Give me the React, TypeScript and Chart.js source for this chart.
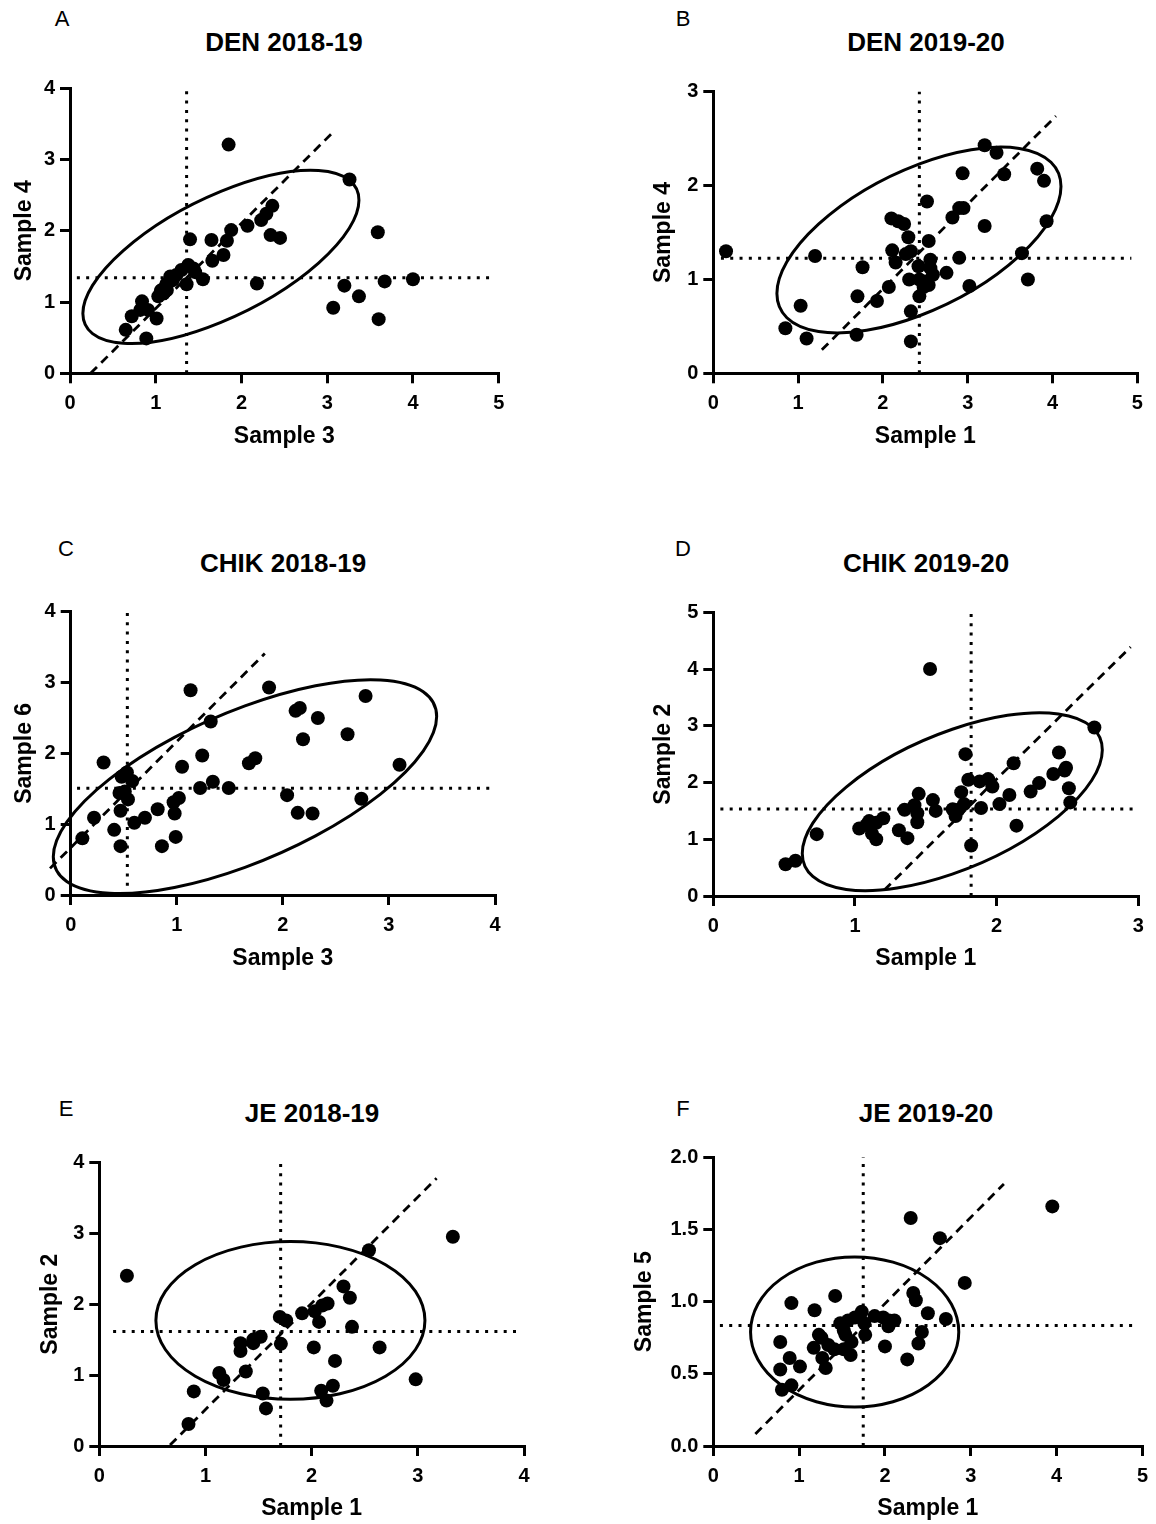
import React, { useEffect, useRef } from "react";
import { Chart, registerables } from "chart.js";
Chart.register(...registerables);

const FONT = "'Liberation Sans', Arial, Helvetica, sans-serif";

// ---------- Panel A: DEN 2018-19 ----------
const A_X = [1.85, 3.26, 3.59, 4.0, 3.67, 3.2, 3.37, 3.07, 3.6, 2.18, 2.36, 2.29, 2.23, 2.34, 2.45, 2.07, 1.88, 1.83, 1.65, 1.79, 1.66, 1.55, 1.4, 1.44, 1.36, 1.3, 1.17, 1.13, 1.07, 1.03, 1.09, 1.01, 0.84, 0.91, 0.82, 0.72, 0.65, 0.89, 1.13, 1.2, 1.06, 1.12, 1.18, 1.24, 1.38, 1.46];
const A_Y = [3.21, 2.72, 1.98, 1.32, 1.29, 1.23, 1.08, 0.92, 0.76, 1.26, 2.35, 2.24, 2.15, 1.94, 1.9, 2.07, 2.01, 1.86, 1.87, 1.66, 1.58, 1.32, 1.88, 1.47, 1.25, 1.45, 1.36, 1.26, 1.17, 1.08, 1.12, 0.77, 1.01, 0.89, 0.89, 0.8, 0.61, 0.49, 1.17, 1.31, 1.16, 1.24, 1.3, 1.38, 1.52, 1.42];
const A_MEDIAN = [1.36, 1.34];
const A_HRANGE = [0.08, 4.93];
const A_FIT = [[0.24, 0], [3.09, 3.41]];
const A_ELLIPSE = [1.76, 1.635, 1.61, 1.215, 0.795];

// ---------- Panel B: DEN 2019-20 ----------
const B_X = [0.15, 0.85, 1.1, 1.03, 1.2, 1.69, 1.7, 1.76, 1.93, 2.07, 2.11, 2.15, 2.1, 2.18, 2.25, 2.3, 2.27, 2.33, 2.31, 2.33, 2.33, 2.42, 2.43, 2.43, 2.48, 2.54, 2.52, 2.54, 2.56, 2.59, 2.56, 2.75, 2.82, 2.9, 2.95, 2.9, 3.02, 2.94, 3.2, 3.2, 3.34, 3.43, 3.82, 3.9, 3.93, 3.64, 3.71, 2.52];
const B_Y = [1.3, 0.48, 0.37, 0.72, 1.25, 0.41, 0.82, 1.13, 0.77, 0.92, 1.31, 1.18, 1.65, 1.62, 1.59, 1.45, 1.27, 1.3, 1.0, 0.66, 0.34, 1.14, 1.0, 0.82, 0.92, 0.94, 1.83, 1.41, 1.21, 1.05, 1.12, 1.07, 1.66, 1.76, 1.76, 1.23, 0.93, 2.13, 1.57, 2.43, 2.35, 2.12, 2.18, 2.05, 1.62, 1.28, 1.0, 0.98];
const B_MEDIAN = [2.43, 1.225];
const B_HRANGE = [0.09, 4.93];
const B_FIT = [[1.28, 0.25], [4.04, 2.74]];
const B_ELLIPSE = [2.425, 1.42, 1.675, 0.99, 0.57];

// ---------- Panel C: CHIK 2018-19 ----------
const C_X = [0.11, 0.22, 0.31, 0.41, 0.47, 0.47, 0.46, 0.51, 0.54, 0.48, 0.53, 0.58, 0.6, 0.7, 0.82, 0.86, 0.97, 1.02, 0.98, 0.99, 1.05, 1.13, 1.22, 1.24, 1.32, 1.34, 1.49, 1.68, 1.74, 1.87, 2.04, 2.12, 2.16, 2.14, 2.19, 2.28, 2.33, 2.61, 2.74, 2.78, 3.1];
const C_Y = [0.8, 1.09, 1.87, 0.92, 0.69, 1.19, 1.44, 1.46, 1.35, 1.67, 1.73, 1.61, 1.02, 1.09, 1.21, 0.69, 1.31, 1.37, 1.15, 0.82, 1.81, 2.89, 1.51, 1.97, 2.45, 1.6, 1.51, 1.86, 1.93, 2.93, 1.41, 2.6, 2.64, 1.16, 2.2, 1.15, 2.5, 2.27, 1.36, 2.81, 1.84];
const C_MEDIAN = [0.534, 1.506];
const C_HRANGE = [0.06, 3.95];
const C_FIT = [[-0.195, 0.376], [1.83, 3.41]];
const C_ELLIPSE = [1.643, 1.53, 1.807, 1.51, 0.99];

// ---------- Panel D: CHIK 2019-20 ----------
const D_X = [0.51, 0.58, 0.73, 1.03, 1.08, 1.1, 1.12, 1.15, 1.15, 1.2, 1.31, 1.37, 1.35, 1.42, 1.44, 1.44, 1.45, 1.55, 1.57, 1.53, 1.69, 1.71, 1.73, 1.77, 1.75, 1.78, 1.8, 1.82, 1.88, 1.94, 1.97, 1.89, 2.02, 2.09, 2.12, 2.14, 2.24, 2.3, 2.4, 2.44, 2.49, 2.48, 2.51, 2.52, 2.69];
const D_Y = [0.56, 0.62, 1.09, 1.19, 1.25, 1.32, 1.1, 1.0, 1.29, 1.37, 1.16, 1.02, 1.52, 1.6, 1.46, 1.3, 1.8, 1.69, 1.5, 4.0, 1.53, 1.41, 1.52, 1.62, 1.83, 2.5, 2.05, 0.89, 2.02, 2.06, 1.93, 1.55, 1.62, 1.78, 2.34, 1.24, 1.84, 1.99, 2.15, 2.53, 2.26, 2.21, 1.9, 1.65, 2.97];
const D_MEDIAN = [1.82, 1.533];
const D_HRANGE = [0.05, 2.965];
const D_FIT = [[1.207, 0.106], [2.946, 4.39]];
const D_ELLIPSE = [1.687, 1.662, 1.059, 1.568, 0.911];

// ---------- Panel E: JE 2018-19 ----------
const E_X = [0.26, 0.84, 0.89, 1.13, 1.17, 1.33, 1.33, 1.38, 1.45, 1.45, 1.52, 1.54, 1.57, 1.71, 1.7, 1.76, 1.91, 2.02, 2.03, 2.07, 2.1, 2.15, 2.09, 2.14, 2.2, 2.22, 2.3, 2.36, 2.38, 2.54, 2.64, 2.98, 3.33];
const E_Y = [2.4, 0.31, 0.77, 1.03, 0.93, 1.45, 1.34, 1.05, 1.5, 1.45, 1.54, 0.74, 0.53, 1.44, 1.82, 1.77, 1.87, 1.39, 1.9, 1.75, 1.98, 2.01, 0.78, 0.64, 0.85, 1.2, 2.25, 2.09, 1.68, 2.76, 1.39, 0.94, 2.95];
const E_MEDIAN = [1.708, 1.613];
const E_HRANGE = [0.13, 3.96];
const E_FIT = [[0.666, 0.014], [3.177, 3.775]];
const E_ELLIPSE = [1.8, 1.77, 1.267, 1.112, 0];

// ---------- Panel F: JE 2019-20 ----------
const F_X = [0.78, 0.78, 0.8, 0.91, 0.89, 0.91, 1.01, 1.17, 1.18, 1.23, 1.26, 1.27, 1.31, 1.34, 1.41, 1.42, 1.48, 1.52, 1.54, 1.52, 1.57, 1.6, 1.61, 1.65, 1.73, 1.76, 1.77, 1.88, 1.98, 2.04, 2.05, 2.11, 2.0, 2.26, 2.3, 2.33, 2.36, 2.39, 2.43, 2.5, 2.64, 2.71, 2.93, 3.95];
const F_Y = [0.72, 0.53, 0.39, 0.42, 0.61, 0.99, 0.55, 0.68, 0.94, 0.77, 0.75, 0.61, 0.54, 0.7, 0.67, 1.04, 0.85, 0.8, 0.77, 0.67, 0.87, 0.63, 0.72, 0.89, 0.93, 0.85, 0.77, 0.9, 0.89, 0.83, 0.87, 0.87, 0.69, 0.6, 1.58, 1.06, 1.01, 0.71, 0.79, 0.92, 1.44, 0.88, 1.13, 1.66];
const F_MEDIAN = [1.747, 0.834];
const F_HRANGE = [0.077, 4.95];
const F_FIT = [[0.49, 0.083], [3.386, 1.815]];
const F_ELLIPSE = [1.647, 0.79, 1.213, 0.52, 0];

type PanelDef = {
  letter: string;
  title: string;
  xTitle: string;
  yTitle: string;
  xs: number[];
  ys: number[];
  median: number[];
  hRange: number[];
  fit: number[][];
  ellipse: number[];
  xMax: number;
  yMax: number;
  yStep: number;
  yDecimals: number;
  canvas: number[];
  plot: number[];
  xTitleY: number;
  yTitleX: number;
  titlePos: number[];
  letterPos: number[];
};

const PANELS: PanelDef[] = [
  {
    letter: "A", title: "DEN 2018-19", xTitle: "Sample 3", yTitle: "Sample 4",
    xs: A_X, ys: A_Y, median: A_MEDIAN, hRange: A_HRANGE, fit: A_FIT, ellipse: A_ELLIPSE,
    xMax: 5, yMax: 4, yStep: 1, yDecimals: 0,
    canvas: [0, 60, 560, 400], plot: [70, 88.3, 498.7, 373.3], xTitleY: 437, yTitleX: 25,
    titlePos: [284, 42], letterPos: [62, 19],
  },
  {
    letter: "B", title: "DEN 2019-20", xTitle: "Sample 1", yTitle: "Sample 4",
    xs: B_X, ys: B_Y, median: B_MEDIAN, hRange: B_HRANGE, fit: B_FIT, ellipse: B_ELLIPSE,
    xMax: 5, yMax: 3, yStep: 1, yDecimals: 0,
    canvas: [620, 60, 536, 400], plot: [713.3, 91.7, 1137.3, 373.3], xTitleY: 437, yTitleX: 664,
    titlePos: [926, 42], letterPos: [683, 19],
  },
  {
    letter: "C", title: "CHIK 2018-19", xTitle: "Sample 3", yTitle: "Sample 6",
    xs: C_X, ys: C_Y, median: C_MEDIAN, hRange: C_HRANGE, fit: C_FIT, ellipse: C_ELLIPSE,
    xMax: 4, yMax: 4, yStep: 1, yDecimals: 0,
    canvas: [0, 580, 560, 400], plot: [70.7, 611.7, 495, 895], xTitleY: 959, yTitleX: 25,
    titlePos: [283, 563], letterPos: [66, 549],
  },
  {
    letter: "D", title: "CHIK 2019-20", xTitle: "Sample 1", yTitle: "Sample 2",
    xs: D_X, ys: D_Y, median: D_MEDIAN, hRange: D_HRANGE, fit: D_FIT, ellipse: D_ELLIPSE,
    xMax: 3, yMax: 5, yStep: 1, yDecimals: 0,
    canvas: [620, 580, 536, 400], plot: [713.3, 612.3, 1138.3, 896], xTitleY: 959, yTitleX: 664,
    titlePos: [926, 563], letterPos: [683, 549],
  },
  {
    letter: "E", title: "JE 2018-19", xTitle: "Sample 1", yTitle: "Sample 2",
    xs: E_X, ys: E_Y, median: E_MEDIAN, hRange: E_HRANGE, fit: E_FIT, ellipse: E_ELLIPSE,
    xMax: 4, yMax: 4, yStep: 1, yDecimals: 0,
    canvas: [0, 1130, 560, 394], plot: [99.3, 1162.3, 524, 1446], xTitleY: 1509, yTitleX: 50.5,
    titlePos: [312, 1113], letterPos: [66, 1109],
  },
  {
    letter: "F", title: "JE 2019-20", xTitle: "Sample 1", yTitle: "Sample 5",
    xs: F_X, ys: F_Y, median: F_MEDIAN, hRange: F_HRANGE, fit: F_FIT, ellipse: F_ELLIPSE,
    xMax: 5, yMax: 2, yStep: 0.5, yDecimals: 1,
    canvas: [620, 1130, 536, 394], plot: [713.3, 1157.3, 1145, 1446], xTitleY: 1509, yTitleX: 645,
    titlePos: [926, 1113], letterPos: [683, 1109],
  },
];

const LINE_W = 3;

const ellipsePlugin = {
  id: "ellipse",
  beforeDatasetsDraw(chart: any, _args: any, opts: any) {
    const e = opts && opts.e;
    if (!e) return;
    const [cx, cy, rx, ry, dy] = e;
    const sx = chart.scales.x;
    const sy = chart.scales.y;
    const px = sx.getPixelForValue(cx);
    const py = sy.getPixelForValue(cy);
    const ux = sx.getPixelForValue(cx + rx) - px;
    const uy = sy.getPixelForValue(cy + dy) - py;
    const r = dy / ry;
    const sinPhi = Math.sqrt(Math.max(0, 1 - r * r));
    const vy = sy.getPixelForValue(cy + ry * sinPhi) - py;
    const ctx = chart.ctx;
    ctx.save();
    ctx.beginPath();
    ctx.save();
    ctx.transform(ux, uy, 0, vy, px, py);
    ctx.arc(0, 0, 1, 0, Math.PI * 2);
    ctx.restore();
    ctx.lineWidth = LINE_W;
    ctx.strokeStyle = "#000";
    ctx.stroke();
    ctx.restore();
  },
};

function PanelChart({ p }: { p: PanelDef }) {
  const ref = useRef<HTMLCanvasElement | null>(null);
  useEffect(() => {
    if (!ref.current) return;
    const [cx, cy, cw, ch] = p.canvas;
    const [pl, pt, pr, pb] = p.plot;
    const wy = pl - cx;
    const hx = cy + ch - pb;
    const titleSize = 23;
    const lh = titleSize * 1.2;
    const yTitlePad = p.yTitleX - cx - lh / 2;
    const xTitlePad = cy + ch - p.xTitleY - lh / 2;
    const tickFont = { family: FONT, size: 20, weight: "bold" as const };
    const titleFont = { family: FONT, size: titleSize, weight: "bold" as const };
    const lineBase = {
      showLine: true,
      pointRadius: 0,
      borderColor: "#000",
      backgroundColor: "#000",
      fill: false,
      clip: false as const,
    };
    const chart = new Chart(ref.current, {
      type: "scatter",
      data: {
        datasets: [
          {
            data: p.xs.map((x, i) => ({ x, y: p.ys[i] })),
            pointRadius: 7,
            pointBackgroundColor: "#000",
            pointBorderWidth: 0,
            pointBorderColor: "#000",
            clip: false as const,
          } as any,
          {
            ...lineBase,
            data: p.fit.map((pt2) => ({ x: pt2[0], y: pt2[1] })),
            borderWidth: 2.8,
            borderDash: [9, 6],
          } as any,
          {
            ...lineBase,
            data: [
              { x: p.median[0], y: 0 },
              { x: p.median[0], y: p.yMax },
            ],
            borderWidth: 3,
            borderDash: [3, 6.3],
          } as any,
          {
            ...lineBase,
            data: [
              { x: p.hRange[0], y: p.median[1] },
              { x: p.hRange[1], y: p.median[1] },
            ],
            borderWidth: 3,
            borderDash: [3, 6.3],
          } as any,
        ],
      },
      options: {
        animation: false,
        responsive: false,
        maintainAspectRatio: false,
        devicePixelRatio: 1,
        events: [],
        layout: { padding: { left: 0, top: pt - cy, right: cx + cw - pr, bottom: 0 } },
        plugins: {
          legend: { display: false },
          tooltip: { enabled: false },
          ellipse: { e: p.ellipse },
        } as any,
        scales: {
          x: {
            type: "linear",
            min: 0,
            max: p.xMax,
            afterFit: (s: any) => {
              s.height = hx;
            },
            ticks: {
              stepSize: 1,
              padding: 8,
              color: "#000",
              font: tickFont,
              maxRotation: 0,
              autoSkip: false,
              callback: (v: any) => String(v),
            },
            grid: {
              display: true,
              drawOnChartArea: false,
              drawTicks: true,
              tickLength: 10,
              color: "#000",
              lineWidth: LINE_W,
            },
            border: { display: true, color: "#000", width: LINE_W },
            title: {
              display: true,
              text: p.xTitle,
              color: "#000",
              font: titleFont,
              padding: { top: 0, bottom: xTitlePad },
            },
          },
          y: {
            type: "linear",
            min: 0,
            max: p.yMax,
            afterFit: (s: any) => {
              s.width = wy;
            },
            ticks: {
              stepSize: p.yStep,
              padding: 5,
              color: "#000",
              font: tickFont,
              autoSkip: false,
              callback: (v: any) => Number(v).toFixed(p.yDecimals),
            },
            grid: {
              display: true,
              drawOnChartArea: false,
              drawTicks: true,
              tickLength: 10,
              color: "#000",
              lineWidth: LINE_W,
            },
            border: { display: true, color: "#000", width: LINE_W },
            title: {
              display: true,
              text: p.yTitle,
              color: "#000",
              font: titleFont,
              padding: { top: yTitlePad, bottom: 0 },
            },
          },
        },
      } as any,
      plugins: [ellipsePlugin as any],
    });
    return () => chart.destroy();
  }, [p]);
  const [cx, cy, cw, ch] = p.canvas;
  return (
    <canvas
      ref={ref}
      width={cw}
      height={ch}
      style={{ position: "absolute", left: cx, top: cy, width: cw, height: ch }}
    />
  );
}

export default function App() {
  return (
    <div
      style={{
        position: "absolute",
        left: 0,
        top: 0,
        width: 1156,
        height: 1524,
        background: "#fff",
        overflow: "hidden",
        fontFamily: FONT,
        color: "#000",
      }}
    >
      {PANELS.map((p) => (
        <React.Fragment key={p.letter}>
          <PanelChart p={p} />
          <div
            style={{
              position: "absolute",
              left: p.letterPos[0],
              top: p.letterPos[1],
              transform: "translate(-50%, -50%)",
              fontSize: 22,
              lineHeight: "24px",
              whiteSpace: "nowrap",
            }}
          >
            {p.letter}
          </div>
          <div
            style={{
              position: "absolute",
              left: p.titlePos[0],
              top: p.titlePos[1],
              transform: "translate(-50%, -50%)",
              fontSize: 26,
              fontWeight: "bold",
              lineHeight: "30px",
              whiteSpace: "nowrap",
            }}
          >
            {p.title}
          </div>
        </React.Fragment>
      ))}
    </div>
  );
}
